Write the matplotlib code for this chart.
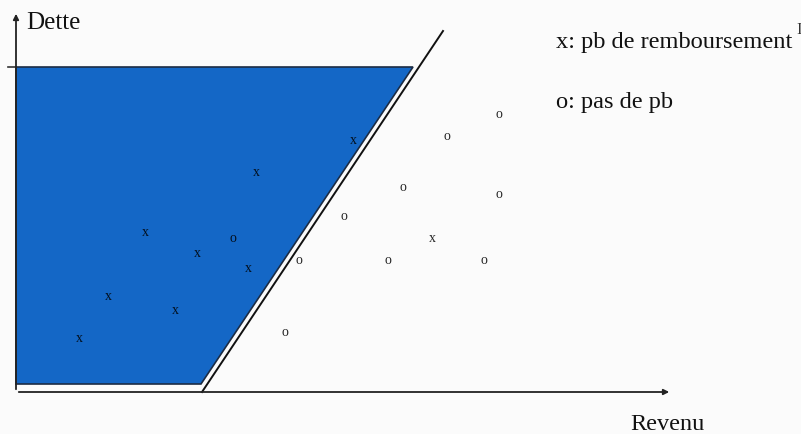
import matplotlib.pyplot as plt
from matplotlib.patches import Polygon

# points (revenu, dette)
x_rev = [337, 240, 129, 181, 232, 92, 159, 63, 416]
x_det = [252, 220, 160, 139, 124, 96, 82, 54, 154]
o_rev = [483, 431, 387, 483, 328, 217, 283, 372, 468, 269]
o_det = [278, 256, 205, 198, 176, 154, 132, 132, 132, 60]

plt.rcParams['font.family'] = ['Liberation Serif', 'DejaVu Serif']

fig = plt.figure(figsize=(8.01, 4.34), dpi=100, facecolor='#fbfbfb')
ax = fig.add_axes([0, 0, 1, 1])
ax.set_xlim(-16, 785)
ax.set_ylim(-42, 392)
ax.axis('off')

# zone "pb de remboursement"
zone = Polygon([(0, 325), (397, 325), (185, 8), (0, 8)], closed=True,
               facecolor='#1467c6', edgecolor='#1c2c44', lw=1.2, zorder=1)
ax.add_patch(zone)
ax.plot([-8, 0], [325, 325], color='#333333', lw=1.2)

# frontiere
ax.plot([186, 427], [0, 361], color='#111111', lw=1.4, zorder=2)

# axes
ax.annotate('', xy=(0, 381), xytext=(0, 0),
            arrowprops=dict(arrowstyle='-|>', color='#222222', lw=1.3,
                            mutation_scale=8))
ax.annotate('', xy=(656, 0), xytext=(0, 0),
            arrowprops=dict(arrowstyle='-|>', color='#222222', lw=1.3,
                            mutation_scale=8))

for r, d in zip(x_rev, x_det):
    ax.text(r, d - 4, 'x', fontsize=10, ha='center', va='baseline',
            color='black', alpha=0.85, zorder=3)
for r, d in zip(o_rev, o_det):
    ax.text(r, d - 4, 'o', fontsize=10, ha='center', va='baseline',
            color='black', alpha=0.85, zorder=3)

ax.text(10, 363, 'Dette', fontsize=18, color='#111111')
ax.text(614, -38, 'Revenu', fontsize=17.5, color='#111111')
ax.text(540, 344, 'x: pb de remboursement', fontsize=17.6, color='#111111')
ax.text(540, 284, 'o: pas de pb', fontsize=17.6, color='#111111')
ax.text(780, 358, 'I', fontsize=12, color='#333333')

fig.savefig('out.png', dpi=100, facecolor=fig.get_facecolor())
